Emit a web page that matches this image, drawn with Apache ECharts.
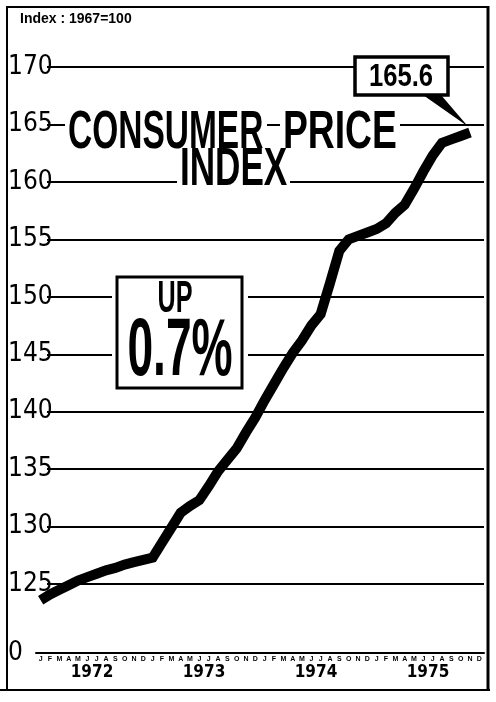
<!DOCTYPE html>
<html><head><meta charset="utf-8">
<script src="https://cdn.jsdelivr.net/npm/echarts@6/dist/echarts.min.js"></script>
<style>html,body{margin:0;padding:0;background:#fff}#c{width:496px;height:702px}</style>
</head><body><div id="c"></div>
<script>
// ---- data ----
const monthLabels = ['J','F','M','A','M','J','J','A','S','O','N','D'];
const years = ['1972','1973','1974','1975'];
// monthly CPI, Jan 1972 .. Dec 1975 (last month not plotted)
const cpi = [
  123.6,124.1,124.5,124.9,125.3,125.6,125.9,126.2,126.4,126.7,126.9,127.1,
  127.3,128.6,129.9,131.2,131.8,132.3,133.5,134.8,135.8,136.8,138.2,139.5,
  141.0,142.4,143.8,145.1,146.2,147.5,148.5,151.2,154.0,155.0,155.3,155.6,
  155.9,156.4,157.3,158.0,159.4,160.9,162.3,163.4,163.7,164.0,164.3,null
];
const yTickValues = [125,130,135,140,145,150,155,160,165,170];
const yBreakValue = 119;
const yBreakLabel = '0';
const yMax = 170;
const unitNote = 'Index : 1967=100';
const titleWords = ['CONSUMER','PRICE','INDEX'];
const changeLines = ['UP','0.7%'];
const latestLabel = '165.6';

const categories = [];
years.forEach(y => monthLabels.forEach((m, i) => categories.push(y + '-' + (i + 1))));

const NARROW = "'Liberation Sans Narrow','DejaVu Sans Condensed','Liberation Sans',sans-serif";
const SANS = "'Liberation Sans',Arial,sans-serif";

const chart = echarts.init(document.getElementById('c'), null, {renderer: 'canvas'});
chart.setOption({
  animation: false,
  backgroundColor: '#fff',
  grid: [
    {left: 36, right: 12, top: 67, bottom: 49},
    {left: 47, right: 12, top: 67, bottom: 49}
  ],
  xAxis: [
    {
      gridIndex: 0, type: 'category', data: categories, boundaryGap: true,
      axisLine: {lineStyle: {color: '#000', width: 2}},
      axisTick: {alignWithLabel: true, inside: true, length: 5, interval: 0, lineStyle: {color: '#000', width: 1}},
      axisLabel: {interval: 0, formatter: (v, i) => monthLabels[i % 12], fontSize: 7, fontWeight: 'bold', margin: 3, color: '#000', fontFamily: SANS},
      splitLine: {show: false}
    },
    {
      gridIndex: 0, type: 'category', data: years, position: 'bottom', offset: 9, boundaryGap: true,
      axisLine: {show: false},
      axisTick: {inside: true, length: 17, lineStyle: {color: '#000', width: 2}},
      axisLabel: {fontSize: 17, fontWeight: 'bold', margin: 2, color: '#000', fontFamily: NARROW},
      splitLine: {show: false}
    },
    {gridIndex: 1, type: 'value', show: false}
  ],
  yAxis: [
    {gridIndex: 0, type: 'value', min: yBreakValue, max: yMax, show: false},
    {
      gridIndex: 1, type: 'value', min: yBreakValue, max: yMax,
      axisLine: {show: false},
      axisTick: {show: false, customValues: yTickValues},
      splitLine: {show: true, lineStyle: {color: '#000', width: 2}},
      axisLabel: {
        customValues: [yBreakValue].concat(yTickValues),
        formatter: v => (v === yBreakValue ? yBreakLabel : String(v)),
        align: 'left', margin: 39, fontSize: 26, color: '#000', fontFamily: NARROW
      }
    }
  ],
  series: [{
    type: 'line', xAxisIndex: 0, yAxisIndex: 0, data: cpi,
    symbol: 'none', silent: true, z: 5,
    lineStyle: {color: '#000', width: 10, cap: 'butt', join: 'miter'}
  }]
});

let last = cpi.length - 1;
while (cpi[last] == null) last--;
const tip = chart.convertToPixel({seriesIndex: 0}, [last, cpi[last]]);

const txt = (text, x, y, size, weight, sx, align) => ({
  type: 'text', x: x, y: y, scaleX: sx, z: 20,
  style: {text: text, font: weight + ' ' + size + 'px ' + SANS, fill: '#000', align: align || 'left', verticalAlign: 'middle'}
});

chart.setOption({
  graphic: [
    // frame
    {type: 'rect', z: 30, shape: {x: 7, y: 7, width: 481, height: 683}, style: {fill: 'none', stroke: '#000', lineWidth: 2}},
    {type: 'line', z: 30, shape: {x1: 488, y1: 6, x2: 488, y2: 691}, style: {stroke: '#000', lineWidth: 3}},
    {type: 'line', z: 30, shape: {x1: 0, y1: 690, x2: 490, y2: 690}, style: {stroke: '#000', lineWidth: 2}},
    // unit note
    txt(unitNote, 20, 19, 14, 'bold', 1),
    // title backgrounds
    {type: 'rect', z: 15, shape: {x: 65, y: 112, width: 202, height: 40}, style: {fill: '#fff'}},
    {type: 'rect', z: 15, shape: {x: 280, y: 112, width: 120, height: 40}, style: {fill: '#fff'}},
    {type: 'rect', z: 15, shape: {x: 177, y: 150, width: 113, height: 38}, style: {fill: '#fff'}},
    txt(titleWords[0], 68, 133, 54, 'bold', 0.62),
    txt(titleWords[1], 283, 133, 54, 'bold', 0.69),
    txt(titleWords[2], 180, 170, 54, 'bold', 0.65),
    // change box
    {type: 'rect', z: 15, shape: {x: 112, y: 272, width: 136, height: 121}, style: {fill: '#fff'}},
    {type: 'rect', z: 16, shape: {x: 117, y: 277, width: 125, height: 111}, style: {fill: 'none', stroke: '#000', lineWidth: 3}},
    txt(changeLines[0], 175, 300, 45, 'bold', 0.56, 'center'),
    txt(changeLines[1], 180, 353, 81, 'bold', 0.57, 'center'),
    // callout
    {type: 'polygon', z: 17, shape: {points: [[423, 95], [441, 95], [tip[0] - 2, tip[1] - 6]]}, style: {fill: '#000'}},
    {type: 'rect', z: 18, shape: {x: 355, y: 57, width: 93, height: 38}, style: {fill: '#fff', stroke: '#000', lineWidth: 3.5}},
    txt(latestLabel, 401, 77, 32, 'bold', 0.8, 'center')
  ]
});
</script></body></html>
